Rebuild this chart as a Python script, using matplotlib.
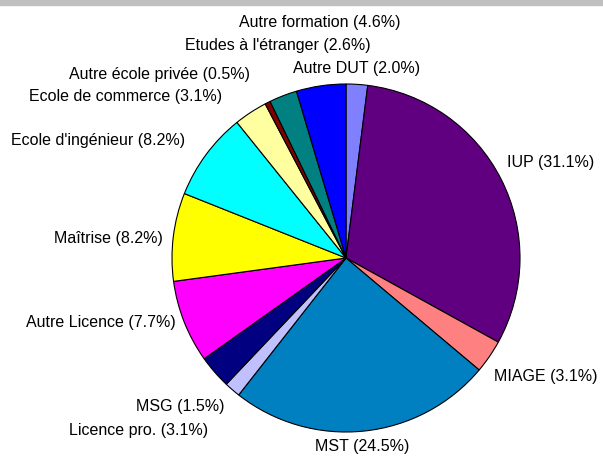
import matplotlib

matplotlib.use("Agg")
import matplotlib.pyplot as plt  # noqa: E402

W, H, DPI = 603, 457, 100
CX, CY, R = 346, 258, 174  # pie centre / radius in pixels

labels = ["Autre DUT", "IUP", "MIAGE", "MST", "MSG", "Licence pro.",
          "Autre Licence", "Maîtrise", "Ecole d'ingénieur", "Ecole de commerce",
          "Autre école privée", "Etudes à l'étranger", "Autre formation"]
shares = [2.0, 31.1, 3.1, 24.5, 1.5, 3.1, 7.7, 8.2, 8.2, 3.1, 0.5, 2.6, 4.6]
colors = ["#8080ff", "#600080", "#ff8080", "#0080c0", "#c0c0ff", "#000080",
          "#ff00ff", "#ffff00", "#00ffff", "#ffffa0", "#800000", "#008080", "#0000ff"]

# label anchor in pixels (x, y, ha)
label_pos = [(357, 69, "center"), (507, 163, "left"), (494, 376, "left"),
             (362, 446, "center"), (225, 407, "right"), (208, 431, "right"),
             (176, 323, "right"), (163, 238, "right"), (185, 140, "right"),
             (222, 97, "right"), (250, 75, "right"), (278, 45, "center"),
             (320, 23, "center")]


def px(x, y):
    return (x - CX) / R, (CY - y) / R


fig = plt.figure(figsize=(W / DPI, H / DPI), dpi=DPI)
fig.patches.append(plt.Rectangle((0, 1 - 5 / H), 1, 5 / H, transform=fig.transFigure,
                                 color="#c0c0c0", zorder=-1))
ax = fig.add_axes([0, 0, 1, 1])

ax.pie(shares, colors=colors, startangle=90, counterclock=False, radius=1,
       wedgeprops=dict(edgecolor="black", linewidth=0.8))
ax.set_xlim(-CX / R, (W - CX) / R)
ax.set_ylim(-(H - CY) / R, CY / R)
ax.set_aspect("equal")
ax.axis("off")

for name, val, (x, y, ha) in zip(labels, shares, label_pos):
    tx, ty = px(x, y)
    ax.text(tx, ty, f"{name} ({val:.1f}%)", ha=ha, va="center", fontsize=11.5,
            family="Liberation Sans", color="black")

fig.savefig("out.png", dpi=DPI)
